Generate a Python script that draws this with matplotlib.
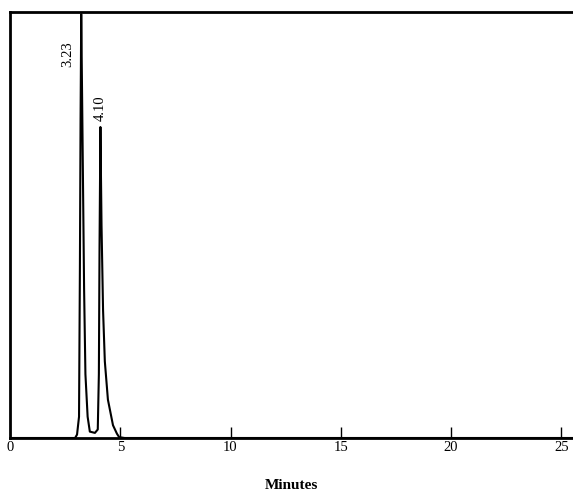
import matplotlib.pyplot as plt

# --- Chromatogram trace (time in minutes, detector response in % of full scale) ---
time_min = [0.0, 2.95, 3.04, 3.13, 3.17, 3.20, 3.23, 3.27, 3.31, 3.36, 3.42,
            3.52, 3.62, 3.85, 3.98, 4.03, 4.06, 4.10, 4.15, 4.22, 4.30, 4.44,
            4.67, 4.85, 4.95, 5.20, 25.5]
response = [0.0, 0.0, 0.8, 5.0, 40.0, 75.0, 99.5, 80.0, 60.0, 35.0, 15.0,
            5.0, 1.5, 1.2, 2.0, 15.0, 45.0, 73.0, 50.0, 30.0, 18.0, 9.0,
            3.0, 1.0, 0.2, 0.0, 0.0]

peak_times = [3.23, 4.10]
peak_heights = [99.5, 73.0]
peak_labels = ["3.23", "4.10"]

xticks = [0, 5, 10, 15, 20, 25]

plt.rcParams.update({
    "font.family": "serif",
    "font.serif": ["Liberation Serif", "DejaVu Serif"],
})

fig = plt.figure(figsize=(5.73, 4.96), dpi=100)
ax = fig.add_axes([10 / 573, 1 - 438 / 496, 563 / 573, 426 / 496])

ax.plot(time_min, response, color="black", lw=1.5)

# retention time labels above each peak
ax.text(peak_times[0] - 0.62, 90, peak_labels[0], rotation=90,
        ha="center", va="center", fontsize=10.5)
ax.text(peak_times[1], peak_heights[1] + 1.5, peak_labels[1], rotation=90,
        ha="center", va="bottom", fontsize=10.5)

ax.set_xlim(0, 25.53)
ax.set_ylim(0, 100)
ax.set_xticks(xticks)
ax.set_xticklabels([str(t) for t in xticks], fontsize=10.5)
ax.set_yticks([])
ax.tick_params(axis="x", direction="in", length=8, width=1, pad=2)
ax.xaxis.get_major_ticks()[0].tick1line.set_visible(False)

ax.spines["right"].set_visible(False)
for side in ["left", "top", "bottom"]:
    ax.spines[side].set_linewidth(2)

ax.set_xlabel("Minutes", fontsize=11, fontweight="bold", labelpad=18)

plt.savefig("out.png", dpi=100)
